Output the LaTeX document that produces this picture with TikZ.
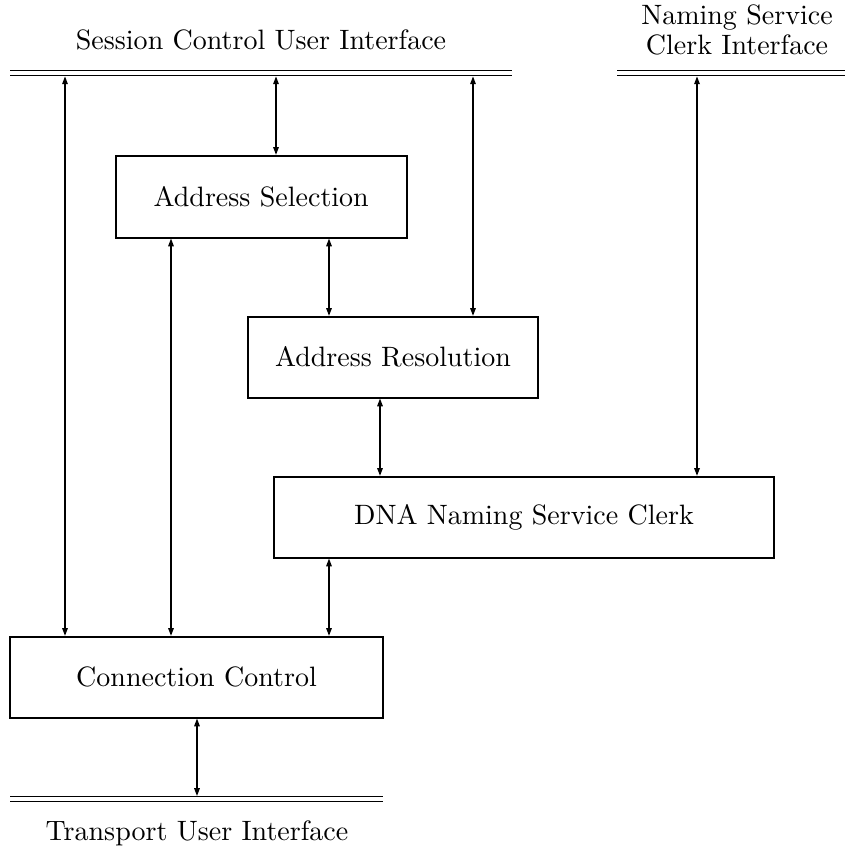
\documentclass[tikz,border=0pt]{standalone}
\usetikzlibrary{arrows.meta}
\begin{document}
\begin{tikzpicture}[x=0.357pt,y=-0.357pt,
  box/.style={draw,line width=0.6pt,inner sep=0pt,font=\fontsize{10}{12}\selectfont},
  iface/.style={line width=0.45pt,double,double distance=1.3pt},
  conn/.style={line width=0.45pt,{Triangle[length=2.8pt,width=2pt]}-{Triangle[length=2.8pt,width=2pt]}},
  lbl/.style={anchor=base,inner sep=0pt,font=\fontsize{10}{12}\selectfont}]
\useasboundingbox (0,0) rectangle (845,850);
% interfaces
\coordinate (scL) at (10,73.3);
\coordinate (scR) at (512,73.3);
\coordinate (nsL) at (617,73.3);
\coordinate (nsR) at (845,73.3);
\coordinate (tuL) at (10,799);
\coordinate (tuR) at (383,799);
\draw[iface] (scL) -- (scR);
\draw[iface] (nsL) -- (nsR);
\draw[iface] (tuL) -- (tuR);
\node[lbl] (sclbl) at (261,50) {Session Control User Interface};
\node[lbl] (nslbl1) at (737,25) {Naming Service};
\node[lbl] (nslbl2) at (737,55) {Clerk Interface};
\node[lbl] (tulbl) at (197,840) {Transport User Interface};
% boxes
\node[box,minimum width=291*0.357pt,minimum height=82*0.357pt] (sel) at (261.2,196.7) {Address Selection};
\node[box,minimum width=290*0.357pt,minimum height=81*0.357pt] (res) at (393,357.2) {Address Resolution};
\node[box,minimum width=500*0.357pt,minimum height=81*0.357pt] (dna) at (524,517.2) {DNA Naming Service Clerk};
\node[box,minimum width=373*0.357pt,minimum height=81*0.357pt] (cc) at (196.5,677.2) {Connection Control};
% connection points on interfaces
\coordinate (t1) at (65,76.4);
\coordinate (t2) at (276,76.4);
\coordinate (t3) at (473,76.4);
\coordinate (t4) at (697,76.4);
\coordinate (b1) at (197,796);
% connectors
\draw[conn] (t1) -- (t1 |- cc.north);
\draw[conn] (t2) -- (t2 |- sel.north);
\draw[conn] (t3) -- (t3 |- res.north);
\draw[conn] (t4) -- (t4 |- dna.north);
\draw[conn] (sel.south -| 171,0) -- (cc.north -| 171,0);
\draw[conn] (sel.south -| 329,0) -- (res.north -| 329,0);
\draw[conn] (res.south -| 380,0) -- (dna.north -| 380,0);
\draw[conn] (dna.south -| 329,0) -- (cc.north -| 329,0);
\draw[conn] (cc.south -| b1) -- (b1);
\end{tikzpicture}
\end{document}
